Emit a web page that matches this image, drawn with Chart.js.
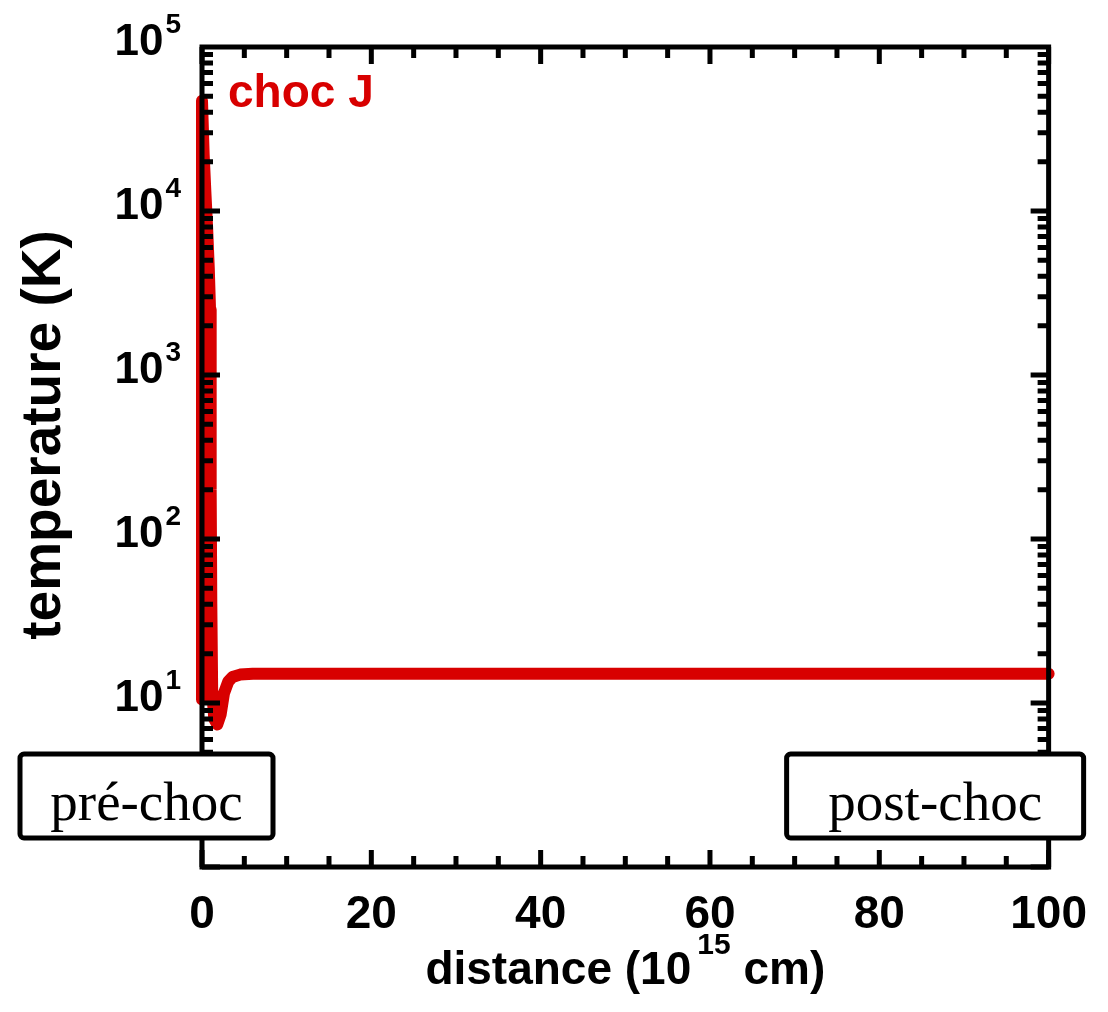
<!DOCTYPE html>
<html>
<head>
<meta charset="utf-8">
<script src="https://cdn.jsdelivr.net/npm/chart.js@4.4.1/dist/chart.umd.min.js"></script>
<style>
  html, body { margin: 0; padding: 0; background: #fff; }
  #wrap { width: 1108px; height: 1012px; }
</style>
</head>
<body>
<div id="wrap"><canvas id="myChart" width="1108" height="1012"></canvas></div>
<script>
// distance in 10^15 cm, temperature in K
const distance = [0, 0, 0.2, 0.4, 0.6, 0.8, 0.95, 1.0, 1.05, 1.1, 1.2, 1.45, 1.8, 2.2, 2.6, 3.1, 3.6, 4.5, 6, 10, 20, 30, 40, 50, 60, 70, 80, 90, 100];
const temperature = [10.5, 47000, 22000, 13000, 8000, 4500, 2500, 1000, 200, 40, 12, 8, 7.4, 8.5, 11.5, 13.5, 14.4, 14.9, 15.1, 15.1, 15.1, 15.1, 15.1, 15.1, 15.1, 15.1, 15.1, 15.1, 15.1];

const xTicks = [0, 20, 40, 60, 80, 100];
const yDecades = [1, 2, 3, 4, 5];

const red = '#d80000';
const sans = '"Liberation Sans", Arial, sans-serif';
const serif = '"Liberation Serif", "Times New Roman", serif';

const points = distance.map((d, i) => ({x: d, y: temperature[i]}));

// box, inward ticks, y labels, axis titles and the two labels
const framePlugin = {
    id: 'frame',
    afterDatasetsDraw(chart) {
        const ctx = chart.ctx;
        const a = chart.chartArea;
        const xs = chart.scales.x;
        const ys = chart.scales.y;
        ctx.save();
        ctx.strokeStyle = '#000';
        ctx.lineCap = 'butt';

        // x ticks every 5, bottom and top
        for (let v = 0; v <= 100; v += 5) {
            const px = xs.getPixelForValue(v);
            const len = v % 20 === 0 ? 17 : 11;
            ctx.lineWidth = 5;
            ctx.beginPath();
            ctx.moveTo(px, a.bottom); ctx.lineTo(px, a.bottom - len);
            ctx.moveTo(px, a.top); ctx.lineTo(px, a.top + len);
            ctx.stroke();
        }
        // y ticks 1..9 per decade, left and right
        for (let d = 0; d < 5; d++) {
            for (let m = 1; m <= 9; m++) {
                const py = ys.getPixelForValue(m * Math.pow(10, d));
                const len = m === 1 ? 18 : 11;
                ctx.lineWidth = 5;
                ctx.beginPath();
                ctx.moveTo(a.left, py); ctx.lineTo(a.left + len, py);
                ctx.moveTo(a.right, py); ctx.lineTo(a.right - len, py);
                ctx.stroke();
            }
        }
        ctx.lineWidth = 5;
        ctx.strokeRect(a.left, a.top, a.right - a.left, a.bottom - a.top);

        // y tick labels 10^n
        ctx.fillStyle = '#000';
        ctx.textBaseline = 'alphabetic';
        yDecades.forEach(n => {
            const py = ys.getPixelForValue(Math.pow(10, n));
            ctx.font = 'bold 28px ' + sans;
            ctx.textAlign = 'right';
            const supW = ctx.measureText(String(n)).width;
            ctx.fillText(String(n), a.left - 21, py - 14);
            ctx.font = 'bold 44px ' + sans;
            ctx.fillText('10', a.left - 23 - supW, py + 8);
        });

        // y title
        ctx.save();
        ctx.translate(45, (a.top + a.bottom) / 2 - 22);
        ctx.rotate(-Math.PI / 2);
        ctx.font = 'bold 55px ' + sans;
        ctx.textAlign = 'center';
        ctx.textBaseline = 'middle';
        ctx.fillText('temperature (K)', 0, 0);
        ctx.restore();

        // x title with superscript
        const p1 = 'distance (10', p2 = '15', p3 = ' cm)';
        ctx.textAlign = 'left';
        ctx.font = 'bold 46px ' + sans;
        const w1 = ctx.measureText(p1).width, w3 = ctx.measureText(p3).width;
        ctx.font = 'bold 30px ' + sans;
        const w2 = ctx.measureText(p2).width;
        const gap = 6;
        let tx = (a.left + a.right) / 2 - (w1 + gap + w2 + w3) / 2;
        const ty = 984;
        ctx.font = 'bold 46px ' + sans;
        ctx.fillText(p1, tx, ty);
        ctx.font = 'bold 30px ' + sans;
        ctx.fillText(p2, tx + w1 + gap, ty - 30);
        ctx.font = 'bold 46px ' + sans;
        ctx.fillText(p3, tx + w1 + gap + w2, ty);

        // series label
        ctx.fillStyle = red;
        ctx.font = 'bold 46px ' + sans;
        ctx.fillText('choc J', a.left + 26, a.top + 60);
        ctx.restore();
    },
    afterDraw(chart) {
        const ctx = chart.ctx;
        const a = chart.chartArea;
        const boxes = [
            {text: 'pré-choc', x0: 20, x1: 273},
            {text: 'post-choc', x0: a.right - 262, x1: a.right + 35}
        ];
        ctx.save();
        boxes.forEach(b => {
            const y0 = a.bottom - 113, y1 = a.bottom - 29;
            ctx.beginPath();
            ctx.roundRect(b.x0, y0, b.x1 - b.x0, y1 - y0, 4);
            ctx.fillStyle = '#fff';
            ctx.fill();
            ctx.lineWidth = 5;
            ctx.strokeStyle = '#000';
            ctx.stroke();
            ctx.fillStyle = '#000';
            ctx.font = '55px ' + serif;
            ctx.textAlign = 'center';
            ctx.textBaseline = 'alphabetic';
            ctx.fillText(b.text, (b.x0 + b.x1) / 2, y1 - 18);
        });
        ctx.restore();
    }
};

const config = {
    type: 'line',
    data: {
        datasets: [{
            label: 'choc J',
            data: points,
            borderColor: red,
            backgroundColor: red,
            borderWidth: 12,
            borderJoinStyle: 'round',
            borderCapStyle: 'round',
            pointRadius: 0,
            tension: 0,
            clip: {left: 8, right: 8, top: 0, bottom: 0}
        }]
    },
    options: {
        responsive: false,
        devicePixelRatio: 1,
        animation: false,
        layout: {padding: {top: 47, right: 57, left: 0, bottom: 0}},
        plugins: {
            legend: {display: false},
            tooltip: {enabled: false}
        },
        scales: {
            x: {
                type: 'linear',
                min: 0,
                max: 100,
                afterBuildTicks: scale => { scale.ticks = xTicks.map(v => ({value: v})); },
                afterFit: scale => { scale.height = 145; },
                grid: {display: false, drawTicks: false},
                border: {display: false},
                ticks: {
                    color: '#000',
                    padding: 21,
                    maxRotation: 0,
                    font: {family: sans, size: 46, weight: 'bold'}
                }
            },
            y: {
                type: 'logarithmic',
                min: 1,
                max: 100000,
                afterFit: scale => { scale.width = 202; },
                grid: {display: false, drawTicks: false},
                border: {display: false},
                ticks: {display: false}
            }
        }
    },
    plugins: [framePlugin]
};

const myChart = new Chart(document.getElementById('myChart'), config);
</script>
</body>
</html>
